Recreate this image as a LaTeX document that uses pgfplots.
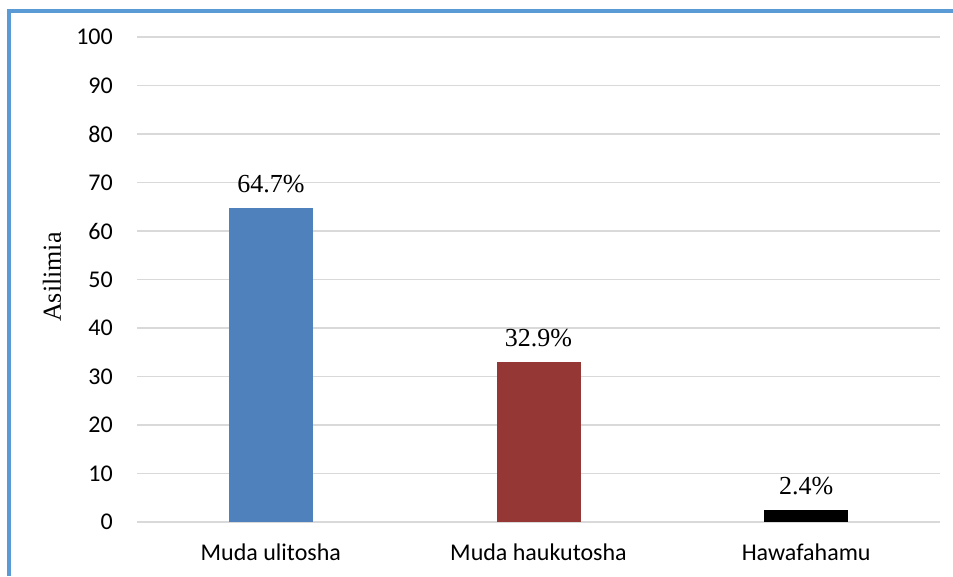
\documentclass[border=0pt]{standalone}
\usepackage{fontspec}
\setmainfont{Carlito}
\newfontfamily\seriffont{Liberation Serif}
\usepackage{pgfplots}
\pgfplotsset{compat=1.18}
\definecolor{frameblue}{HTML}{5B9BD5}
\definecolor{barblue}{HTML}{4F81BD}
\definecolor{barred}{HTML}{953735}
\definecolor{gridgray}{HTML}{D9D9D9}
\begin{document}
\begin{tikzpicture}
\useasboundingbox (0pt,0pt) rectangle (953pt,576pt);
\fill[white] (0pt,0pt) rectangle (953pt,576pt);
\draw[frameblue, line width=3.5pt] (9pt,0pt) -- (9pt,565pt) -- (953pt,565pt);
\begin{axis}[
  at={(137pt,54pt)}, anchor=south west,
  scale only axis, width=803pt, height=485pt,
  xmin=-0.5, xmax=2.5, ymin=0, ymax=100,
  xtick={0,1,2}, xticklabels={Muda ulitosha, Muda haukutosha, Hawafahamu},
  ytick={0,10,...,100},
  axis line style={draw=none},
  major tick length=0pt,
  ymajorgrids, grid style={gridgray, line width=1.2pt},
  /pgf/number format/assume math mode=true,
  tick label style={font=\fontsize{24}{28}\selectfont, text=black},
  yticklabel style={anchor=east, inner sep=0pt, xshift=-24pt},
  xticklabel style={anchor=base, inner sep=0pt, yshift=-38pt},
  ylabel={\seriffont Asilimia},
  ylabel style={font=\fontsize{26}{30}\selectfont, at={(axis description cs:-0.1059,0.505)}, anchor=center, rotate=0, inner sep=0pt},
  ybar, bar width=84pt, bar shift=0pt,
  nodes near coords={\pgfmathprintnumber[fixed,precision=1]{\pgfplotspointmeta}\%},
  nodes near coords style={font=\seriffont\fontsize{26}{30}\selectfont, anchor=base, yshift=16pt, inner sep=0pt, /pgf/number format/assume math mode=true},
  clip=false,
]
\addplot[fill=barblue, draw=none] coordinates {(0,64.7)};
\addplot[fill=barred, draw=none] coordinates {(1,32.9)};
\addplot[fill=black, draw=none] coordinates {(2,2.4)};
\end{axis}
\end{tikzpicture}
\end{document}
